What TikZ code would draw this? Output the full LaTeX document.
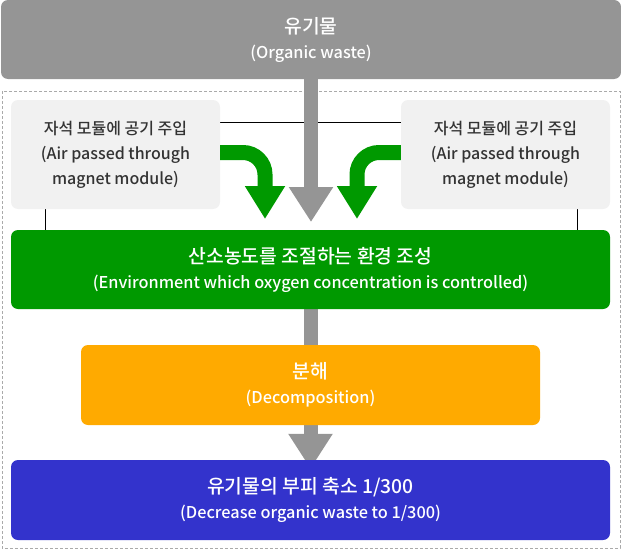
\documentclass[tikz,border=0pt]{standalone}
\usepackage{fontspec}
\setmainfont{Noto Sans CJK KR Medium}
\usetikzlibrary{arrows.meta,backgrounds}
\definecolor{wastegray}{HTML}{959595}
\definecolor{sidegray}{HTML}{F1F1F1}
\definecolor{textgray}{HTML}{333333}
\definecolor{envgreen}{HTML}{009900}
\definecolor{decorange}{HTML}{FFAA00}
\definecolor{resblue}{HTML}{3333CC}
\definecolor{framegray}{HTML}{AAAAAA}
\newcommand{\twolines}[2]{{\fontsize{19.3}{25}\selectfont #1}\\{\fontsize{16.3}{25}\selectfont #2}}

\begin{document}
\begin{tikzpicture}[x=1pt,y=-1pt,
  box/.style={rounded corners=7pt,inner sep=0pt,align=center,
    font=\fontsize{16}{25}\selectfont,text=white},
  sidebox/.style={box,fill=sidegray,text=textgray,minimum width=209pt,minimum height=109pt},
  flowarrow/.style={wastegray,line width=14pt,-{Triangle[width=42pt,length=35pt]}},
  flowshaft/.style={wastegray,line width=14pt},
  airarrow/.style={envgreen,line width=15pt,rounded corners=22pt,-{Triangle[width=38pt,length=33pt]}}]
\useasboundingbox (0,0) rectangle (621,551);

\node[box,fill=wastegray,minimum width=620pt,minimum height=79pt] (waste) at (311,39.5) {\twolines{유기물}{(Organic waste)}};
\node[sidebox] (airL) at (115.5,154.5) {자석 모듈에 공기 주입\\(Air passed through\\magnet module)};
\node[sidebox] (airR) at (505.5,154.5) {자석 모듈에 공기 주입\\(Air passed through\\magnet module)};
\node[box,fill=envgreen,minimum width=599pt,minimum height=79pt] (env) at (310.5,269.5) {\twolines{산소농도를 조절하는 환경 조성}{(Environment which oxygen concentration is controlled)}};
\node[box,fill=decorange,minimum width=459pt,minimum height=80pt] (decomp) at (310.5,385) {\twolines{분해}{(Decomposition)}};
\node[box,fill=resblue,minimum width=599pt,minimum height=80pt] (result) at (310.5,500) {\twolines{유기물의 부피 축소 1/300}{(Decrease organic waste to 1/300)}};

\coordinate (inL) at (265,219);
\coordinate (inR) at (357,219);
\coordinate (inC) at (311,222);

\begin{scope}[on background layer]
\draw[framegray,line width=1pt,dash pattern=on 3pt off 2pt] (2,91) rectangle (620,548);
\draw[line width=1pt] ([yshift=-23pt]airL.north east) -- ([yshift=-23pt]airR.north west);
\draw[line width=1pt] ([xshift=-70.5pt]airL.south) -- ([xshift=-70.5pt]airL.south |- env.north);
\draw[line width=1pt] ([xshift=71.5pt]airR.south) -- ([xshift=71.5pt]airR.south |- env.north);
\draw[flowarrow] (waste.south) -- (inC);
\draw[flowshaft] (env.south) -- (decomp.north);
\draw[flowarrow] (decomp.south) -- ([yshift=-9pt]result.north);
\end{scope}

\draw[airarrow] ([yshift=2pt]airL.east) -| (inL);
\draw[airarrow] ([yshift=2pt]airR.west) -| (inR);
\end{tikzpicture}
\end{document}
